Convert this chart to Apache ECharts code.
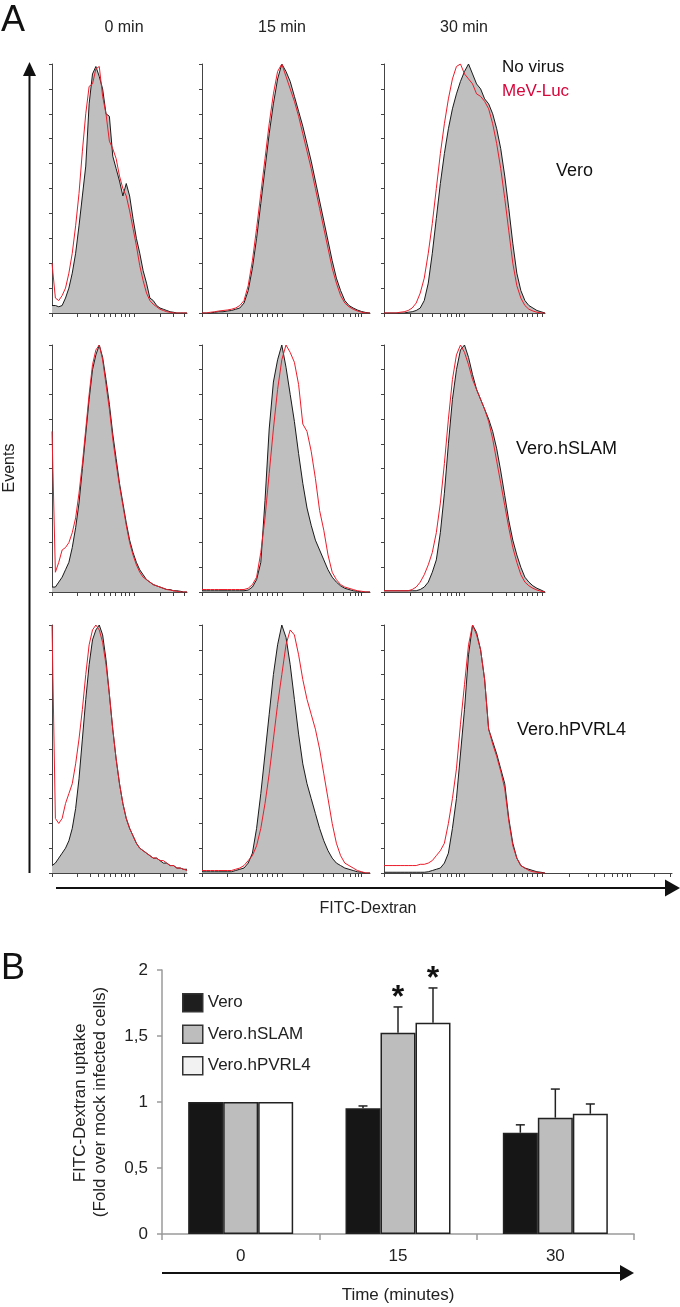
<!DOCTYPE html>
<html><head><meta charset="utf-8">
<script src="https://cdn.jsdelivr.net/npm/echarts/dist/echarts.min.js"></script>
<style>html,body{margin:0;padding:0;background:#fff}#c{width:680px;height:1307px}</style>
</head><body><div id="c"></div><script>
// ---------------- Panel A data ----------------
const timeHeaders = ['0 min', '15 min', '30 min'];
const cellLines = ['Vero', 'Vero.hSLAM', 'Vero.hPVRL4'];
const histLegend = ['No virus', 'MeV-Luc'];

// histogram heights (% of panel max) at 41 evenly spaced bins across each panel
const vero0_noVirus = [3,3,2.5,3,6,10,16,24,35,47,59,84,96,99,95,90,80,79,63,58,53,47,52,47,38,30,24,17,12,6,5,3,2,1.5,1,0.5,0.3,0,0,0,0];
const vero0_mevLuc = [20,6,5,7,10,16,24,35,48,65,80,91,92,98,99,87,80,69,66,62,55,50,47,41,34,27,19,13,8,5,3.5,2.5,1.5,1,0.5,0.3,0,0,0,0,0];
const vero15_noVirus = [0,0,0,0.3,0.5,0.5,0.8,1,1.5,2,4,9,18,30,44,58,72,84,94,100,97,93,87,81,75,68,61,53,45,37,29,21,14,9,5,3,2,1.2,0.6,0.2,0];
const vero15_mevLuc = [0,0,0.3,0.5,0.8,1,1.2,1.5,2,3,5,11,21,34,48,62,76,88,97,100,95,90,85,79,72,65,58,50,42,34,26,18,12,7,4,2.5,1.5,0.8,0.3,0,0];
const vero30_noVirus = [0,0,0,0,0,0,0.3,0.5,1,2,5,12,24,38,52,64,74,82,88,93,97,100,96,92,90,86,84,80,74,66,55,42,28,16,9,5,3,2,1,0.5,0];
const vero30_mevLuc = [0,0,0,0,0.3,0.5,1,2,4,8,14,24,36,50,64,76,86,94,99,100,96,94,92,88,87,85,82,76,68,58,46,33,20,11,6,3,1.5,0.8,0.3,0,0];

const hslam0_noVirus = [2,2,4,6,9,12,18,26,36,50,64,78,90,96,100,95,86,76,64,54,44,36,28,21,16,12,9,7,5,4,3,2.5,2,1.5,1,1,0.5,0.5,0.3,0,0];
const hslam0_mevLuc = [65,8,12,17,18,20,24,30,40,52,66,80,92,98,100,94,84,74,62,52,43,35,27,20,15,11,8,6,5,4,3,2.5,2,1.5,1,0.8,0.5,0.3,0,0,0];
const hslam15_noVirus = [0.5,0.5,0.5,0.5,0.5,0.5,0.5,0.5,0.5,0.5,0.5,0.8,2,5,12,37,66,85,94,100,91,80,69,56,44,34,27,21,17,13,9,6,4,2.5,1.5,1,0.5,0.3,0,0,0];
const hslam15_mevLuc = [1,1,1,1,1,1,1,1,1,1,1,1.5,3,6,16,30,48,66,82,94,100,97,93,84,68,65,57,46,33,25,15,8,5,3,2,1.5,1,0.5,0.3,0,0];
const hslam30_noVirus = [0.5,0.5,0.5,0.5,0.5,0.5,0.5,0.5,0.5,1,2,4,8,13,24,40,60,78,90,98,100,95,88,82,78,74,70,65,58,49,39,29,21,15,10,6,4,2.5,1.5,0.8,0];
const hslam30_mevLuc = [0.5,0.5,0.5,0.5,0.5,0.5,0.5,1,2,4,7,11,16,24,36,52,70,86,96,100,97,92,86,82,78,74,69,62,53,44,35,26,18,12,7,4,2.5,1.5,0.8,0.3,0];

const hpvrl40_noVirus = [3,4,6,8,10,13,18,26,38,54,70,84,94,98,100,96,86,72,58,46,36,28,22,18,15,12,10,9,8,7,6,6,5,4,4,3,3,2,2,1.5,1.5];
const hpvrl40_mevLuc = [100,22,20,22,28,32,36,44,54,66,80,92,98,100,98,93,84,72,58,46,36,28,22,18,15,12,10,9,8,7,6,6,5,5,4,3,3,2,2,1.5,1];
const hpvrl415_noVirus = [0.5,0.5,0.5,0.5,0.5,0.5,0.5,0.5,1,1.5,2,4,8,18,32,48,64,80,92,100,95,84,70,56,44,36,30,24,18,13,9,6,4,3,2,1.5,1,0.5,0.3,0,0];
const hpvrl415_mevLuc = [1,1,1,1,1,1,1,1,1.5,2,3,5,7,11,18,28,40,54,68,80,92,98,96,88,78,70,64,58,50,40,30,20,12,7,4,3,2,1,0.5,0,0];
const hpvrl430_noVirus = [0.3,0.3,0.3,0.3,0.3,0.3,0.3,0.3,0.3,0.3,0.3,0.5,1,1.5,2,4,8,18,30,48,66,88,100,97,90,78,58,53,48,42,36,22,12,6,3,2,1.5,1,0.5,0.3,0];
const hpvrl430_mevLuc = [3,3,3,3,3,3,3,3,3,3.5,3.5,4,5,7,9,12,20,30,42,60,76,92,100,96,90,78,58,52,47,41,34,21,11,6,3,2,1,0.5,0.3,0,0];

const histPanels = [
  [[vero0_noVirus, vero0_mevLuc], [vero15_noVirus, vero15_mevLuc], [vero30_noVirus, vero30_mevLuc]],
  [[hslam0_noVirus, hslam0_mevLuc], [hslam15_noVirus, hslam15_mevLuc], [hslam30_noVirus, hslam30_mevLuc]],
  [[hpvrl40_noVirus, hpvrl40_mevLuc], [hpvrl415_noVirus, hpvrl415_mevLuc], [hpvrl430_noVirus, hpvrl430_mevLuc]]
];

// x-axis (log-like) tick marks, % of each column's panel width
const col1Ticks = [0,19,28,34,39,43,47,51,54,57,61,80,90,98];
const col2Ticks = [0,15,24,29,33,36,39,42,45,48,60,72,78,84,88,91,93,95];
const col3Ticks = [0,16,24,30,35,39,42,45,47,50,67,76,81,86,89,92,95,98];
const lastPanelExtraTicks = [115,127,132,137,142,145,148,151,153,168,178];

// ---------------- Panel B data ----------------
const timeCategories = ['0', '15', '30'];
const barNames = ['Vero', 'Vero.hSLAM', 'Vero.hPVRL4'];
const veroUptake = [1, 0.952, 0.767];
const veroSD = [0, 0.018, 0.06];
const hslamUptake = [1, 1.525, 0.881];
const hslamSD = [0, 0.195, 0.217];
const hpvrl4Uptake = [1, 1.60, 0.911];
const hpvrl4SD = [0, 0.264, 0.074];
const hslamSig = ['', '*', ''];
const hpvrl4Sig = ['', '*', ''];
const yTickLabels = ['0', '0,5', '1', '1,5', '2'];

// ---------------- layout / style ----------------
const FONT = '"Liberation Sans", Arial, Helvetica, sans-serif';
const colLeft = [52, 202, 384], colWidth = [135, 168, 161];
const rowTop = [64, 345, 625], rowHeight = [249, 247, 248];
const NB = 40;
const colTicks = [col1Ticks, col2Ticks, col3Ticks];
const AXC = '#444';
const BAR_W = 35;

const grids = [], xAxes = [], yAxes = [], series = [];
for (let r = 0; r < 3; r++) {
  for (let c = 0; c < 3; c++) {
    const gi = grids.length;
    const last = (r === 2 && c === 2);
    const w = last ? 288 : colWidth[c];
    grids.push({left: colLeft[c], top: rowTop[r], width: w, height: rowHeight[r]});
    let tp = colTicks[c];
    if (last) tp = tp.concat(lastPanelExtraTicks);
    xAxes.push({type: 'value', gridIndex: gi, min: 0, max: NB * w / colWidth[c],
      axisLine: {show: true, onZero: false, lineStyle: {color: AXC, width: 1}},
      axisTick: {show: true, length: 4, customValues: tp.map(p => p * NB / 100), lineStyle: {color: AXC, width: 1}},
      axisLabel: {show: false}, splitLine: {show: false}});
    yAxes.push({type: 'value', gridIndex: gi, min: 0, max: 100, interval: 10,
      axisLine: {show: true, lineStyle: {color: AXC, width: 1}},
      axisTick: {show: true, length: 3, lineStyle: {color: AXC, width: 1}},
      axisLabel: {show: false}, splitLine: {show: false}});
    const [nv, mv] = histPanels[r][c];
    series.push({type: 'line', xAxisIndex: gi, yAxisIndex: gi, data: nv.map((v, i) => [i, v]),
      symbol: 'none', silent: true, z: 2,
      lineStyle: {color: '#1a1a1a', width: 1}, areaStyle: {color: '#bfbfbf', opacity: 1}});
    series.push({type: 'line', xAxisIndex: gi, yAxisIndex: gi, data: mv.map((v, i) => [i, v]),
      symbol: 'none', silent: true, z: 3,
      lineStyle: {color: '#ec1c2a', width: 1}});
  }
}

// bar chart grid
const BG = grids.length;
grids.push({left: 162, top: 970, width: 472, height: 264});
xAxes.push({type: 'category', gridIndex: BG, data: timeCategories,
  axisLine: {lineStyle: {color: '#9a9a9a', width: 1.5}},
  axisTick: {show: true, length: 6, lineStyle: {color: '#9a9a9a', width: 1.5}},
  axisLabel: {color: '#222', fontSize: 17, fontFamily: FONT, margin: 14}});
yAxes.push({type: 'value', gridIndex: BG, min: 0, max: 2, interval: 0.5,
  axisLine: {show: true, lineStyle: {color: '#9a9a9a', width: 1.5}},
  axisTick: {show: true, length: 5, lineStyle: {color: '#9a9a9a', width: 1.5}},
  axisLabel: {color: '#222', fontSize: 17, fontFamily: FONT, margin: 14,
    formatter: v => yTickLabels[Math.round(v / 0.5)]},
  splitLine: {show: false}});

const barFill = ['#161616', '#bdbdbd', '#ffffff'];
const legendFill = ['#1e1e1e', '#bdbdbd', '#f2f2f2'];
const barVals = [veroUptake, hslamUptake, hpvrl4Uptake];
const barSD = [veroSD, hslamSD, hpvrl4SD];
const barSig = [null, hslamSig, hpvrl4Sig];
barNames.forEach((n, k) => {
  series.push({type: 'bar', name: n, xAxisIndex: BG, yAxisIndex: BG, data: barVals[k],
    barWidth: BAR_W, barGap: '0%', z: 3,
    itemStyle: {color: barFill[k], borderColor: '#222', borderWidth: 1.5}});
});
barNames.forEach((n, k) => {
  const sig = barSig[k];
  series.push({type: 'custom', xAxisIndex: BG, yAxisIndex: BG, z: 6, silent: true,
    data: barVals[k].map((v, i) => [i, v, barSD[k][i]]),
    renderItem: (params, api) => {
      const i = api.value(0), v = api.value(1), e = api.value(2);
      const p0 = api.coord([i, v]), p1 = api.coord([i, v + e]);
      const cx = p0[0] + (k - 1) * BAR_W;
      const ch = [];
      if (e > 0) {
        ch.push({type: 'line', shape: {x1: cx, y1: p0[1], x2: cx, y2: p1[1]}, style: {stroke: '#222', lineWidth: 1.5}});
        ch.push({type: 'line', shape: {x1: cx - 4.5, y1: p1[1], x2: cx + 4.5, y2: p1[1]}, style: {stroke: '#222', lineWidth: 1.5}});
      }
      const lab = sig ? sig[params.dataIndex] : '';
      if (lab) ch.push({type: 'text', x: cx, y: p1[1] - 9,
        style: {text: lab, fontSize: 32, fontWeight: 'bold', fontFamily: FONT, fill: '#111', textAlign: 'center', textVerticalAlign: 'middle'}});
      return {type: 'group', children: ch};
    }});
});

// ---------------- text and arrows ----------------
function txt(x, y, text, o) {
  o = o || {};
  return {type: 'text', x: x, y: y, rotation: o.rot || 0, silent: true, z: 10,
    style: {text: text, fontSize: o.size || 16, fontWeight: o.weight || 'normal', fontFamily: FONT,
      fill: o.color || '#222', textAlign: o.align || 'center', textVerticalAlign: 'middle'}};
}
function arrowLine(x1, y1, x2, y2) {
  return {type: 'line', silent: true, z: 10, shape: {x1, y1, x2, y2}, style: {stroke: '#111', lineWidth: 2}};
}
function tri(pts) {
  return {type: 'polygon', silent: true, z: 10, shape: {points: pts}, style: {fill: '#111'}};
}
const colCenters = [124, 282, 464];
const rowLabelPos = [[556, 171], [516, 449], [517, 730]];
const graphics = [
  txt(1, 21, 'A', {size: 36, align: 'left', color: '#111'}),
  txt(1, 969, 'B', {size: 36, align: 'left', color: '#111'}),
  txt(502, 67, histLegend[0], {size: 17, align: 'left', color: '#111'}),
  txt(502, 91, histLegend[1], {size: 17, align: 'left', color: '#d7063b'}),
  txt(10, 468, 'Events', {size: 16, rot: Math.PI / 2}),
  txt(368, 909, 'FITC-Dextran', {size: 16}),
  txt(398, 1295, 'Time (minutes)', {size: 17}),
  txt(80, 1103, 'FITC-Dextran uptake', {size: 17, rot: Math.PI / 2}),
  txt(100, 1102, '(Fold over mock infected cells)', {size: 17, rot: Math.PI / 2}),
  arrowLine(29.5, 74, 29.5, 873), tri([[29.5, 62], [23, 76], [36, 76]]),
  arrowLine(56, 888, 667, 888), tri([[680, 888], [665, 879.5], [665, 896.5]]),
  arrowLine(162, 1273, 622, 1273), tri([[634, 1273], [620, 1265], [620, 1281]])
];
timeHeaders.forEach((t, i) => graphics.push(txt(colCenters[i], 28, t, {size: 16})));
cellLines.forEach((t, i) => graphics.push(txt(rowLabelPos[i][0], rowLabelPos[i][1], t, {size: 18, align: 'left', color: '#111'})));

const chart = echarts.init(document.getElementById('c'), null, {renderer: 'canvas'});
chart.setOption({
  animation: false,
  backgroundColor: '#ffffff',
  grid: grids, xAxis: xAxes, yAxis: yAxes, series: series,
  legend: {orient: 'vertical', left: 177, top: 988, itemWidth: 20, itemHeight: 18, itemGap: 12,
    textStyle: {fontSize: 17, color: '#222', fontFamily: FONT}, selectedMode: false,
    data: barNames.map((n, k) => ({name: n, icon: 'rect', itemStyle: {color: legendFill[k], borderColor: '#333', borderWidth: 1.5}}))},
  graphic: graphics
});
</script></body></html>
